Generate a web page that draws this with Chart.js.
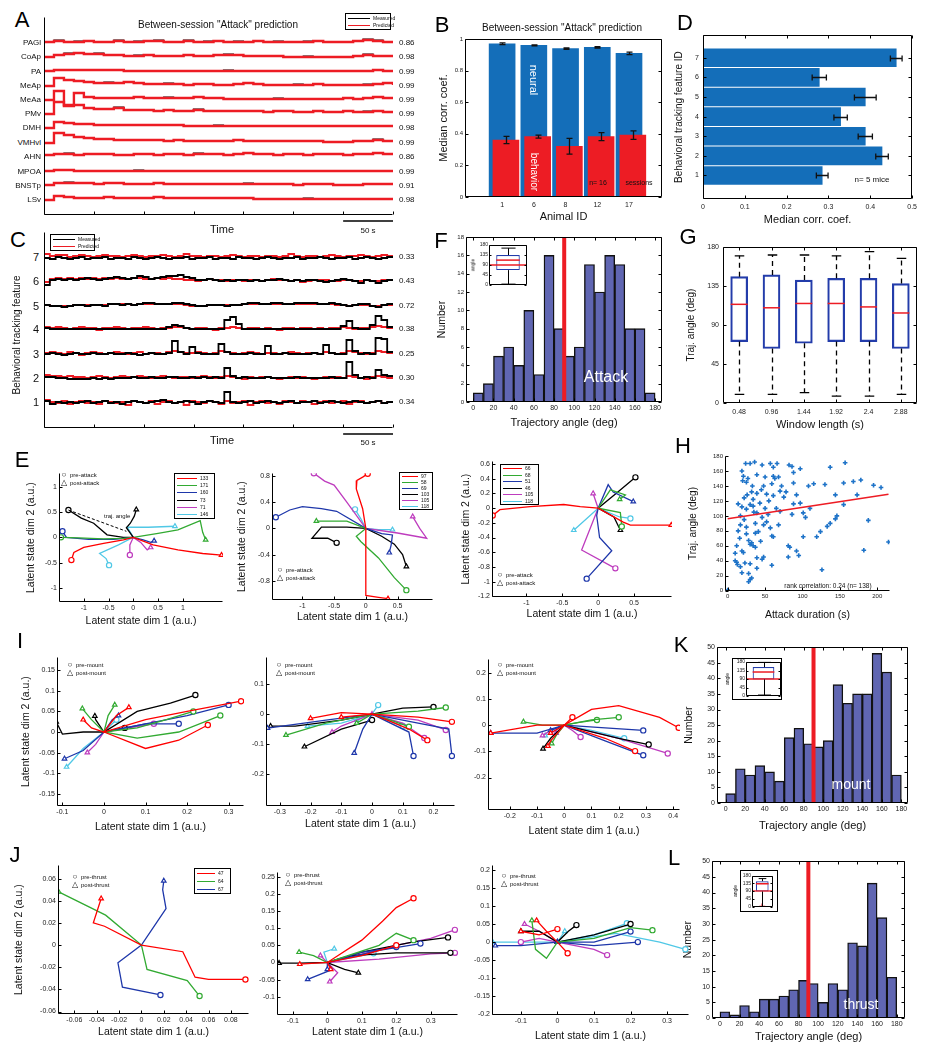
<!DOCTYPE html>
<html>
<head>
<meta charset="utf-8">
<title>Attack / mount / thrust prediction figure</title>
<script src="https://cdn.jsdelivr.net/npm/chart.js@4.4.1/dist/chart.umd.min.js"></script>
<style>
body { margin: 0; background: #fff; }
#fig { position: relative; width: 926px; height: 1050px; overflow: hidden; font-family: 'Liberation Sans', Arial, sans-serif; }
#fig canvas { position: absolute; }
.t { position: absolute; white-space: nowrap; line-height: 1; color: #111; }
.lg { position: absolute; border: 1px solid #000; background: #fff; }
</style>
</head>
<body>
<div id="fig"></div>
<script>
// ---------- data ----------

// A: neural traces, measured vs predicted (px of deflection, 10 s per sample)
const aRegions = ['PAGl', 'CoAp', 'PA', 'MeAp', 'MeAa', 'PMv', 'DMH', 'VMHvl', 'AHN', 'MPOA', 'BNSTp', 'LSv'];
const aCorr = ['0.86', '0.98', '0.99', '0.99', '0.99', '0.99', '0.98', '0.99', '0.86', '0.99', '0.91', '0.98'];
const aPred = [
  [1,2,1,1,2,1,1,2,1,1, 2,2,1,1,2,1,1,2,1,1, 1,2,1,1,1,1,1,2,1,1, 1,2,3,2,1,1],
  [0,2,3,4,3,3,2,2,1,1, 2,1,1,1,2,1,1,2,2,2, 1,1,1,1,0,0,0,0,0,0, 0,1,2,1,1,1],
  [1,2,2,2,2,2,2,2,1,1, 1,1,1,1,1,1,1,1,1,1, 1,1,1,1,1,1,1,1,1,1, 1,1,1,2,1,1],
  [0,8,6,5,4,3,3,3,4,3, 2,2,2,2,1,2,2,1,1,2, 3,2,1,1,1,1,1,2,1,1, 1,1,1,2,3,1],
  [0,9,-5,7,3,2,2,2,2,3, 2,2,2,2,2,3,2,2,1,1, 1,1,1,1,1,1,1,1,1,1, 2,1,2,3,2,1],
  [0,12,8,9,6,5,5,6,4,4, 4,3,4,3,3,4,3,3,3,3, 3,3,2,3,3,2,2,3,2,2, 3,2,2,3,2,2],
  [0,6,5,4,4,3,3,3,3,3, 3,3,3,3,2,2,2,2,2,2, 2,2,2,2,2,2,2,2,2,2, 2,2,2,2,2,1],
  [0,10,8,6,5,4,4,3,3,3, 3,3,2,3,2,2,2,2,2,3, 2,2,2,2,2,2,2,2,1,1, 1,2,2,3,2,1],
  [2,3,3,2,3,3,3,2,2,3, 3,2,3,3,2,3,3,3,2,3, 4,3,3,2,3,3,2,3,3,3, 2,3,3,4,3,2],
  [1,2,2,1,1,1,1,1,1,1, 1,1,1,1,1,1,1,1,1,1, 1,1,1,1,1,1,1,1,1,1, 1,1,1,1,1,1],
  [1,3,3,3,3,2,3,3,2,2, 2,3,2,2,2,2,2,2,2,2, 2,2,2,2,2,1,2,2,2,1, 1,1,2,2,2,1],
  [0,4,3,2,2,2,3,2,2,2, 2,3,2,2,2,2,2,2,2,2, 2,1,1,1,1,1,1,1,1,1, 1,1,1,1,1,1],
];
const aMeas = [
  [1,3,1,2,2,1,1,3,1,2, 2,3,1,1,3,1,2,2,1,2, 1,2,1,2,1,1,2,2,1,1, 1,2,4,3,1,1],
  [0,2,4,4,3,4,2,2,1,2, 2,1,1,1,2,1,1,2,3,2, 1,1,1,1,0,0,1,0,0,0, 0,1,3,1,1,1],
  [1,2,2,2,2,2,2,2,1,1, 1,1,1,1,1,1,1,1,2,1, 1,1,1,1,1,1,1,1,1,1, 1,1,1,2,1,1],
  [0,8,6,5,4,3,4,3,4,3, 2,2,3,2,1,2,2,1,1,2, 3,2,1,1,1,2,1,2,1,1, 1,1,2,2,3,1],
  [0,9,-5,7,3,2,2,2,2,3, 2,2,3,2,2,3,2,2,1,1, 1,1,1,2,1,1,1,1,1,1, 2,1,2,3,2,1],
  [0,12,8,9,6,5,5,7,4,4, 4,3,4,3,3,5,3,3,3,3, 3,3,2,3,3,2,2,3,2,2, 3,2,3,3,2,2],
  [0,6,5,4,4,3,3,3,3,3, 3,3,3,3,2,2,2,3,2,2, 2,2,2,2,2,2,2,2,2,2, 2,2,2,2,2,1],
  [0,10,8,6,5,4,4,3,3,3, 3,3,2,3,2,2,2,2,2,3, 2,2,2,2,2,2,2,2,1,1, 1,2,2,4,2,1],
  [2,3,4,2,3,3,3,2,2,3, 3,2,3,3,2,4,3,3,2,3, 4,3,3,2,3,3,2,3,3,3, 2,3,3,4,3,2],
  [1,2,2,1,1,1,1,1,1,2, 1,1,1,1,1,1,1,1,1,1, 1,1,1,1,1,1,1,1,1,1, 1,1,1,1,1,1],
  [1,3,4,3,3,2,3,3,2,2, 2,3,2,2,2,2,2,2,2,2, 3,2,2,2,2,1,2,2,2,1, 1,1,2,2,2,1],
  [0,4,3,2,2,2,3,2,2,2, 2,3,2,2,2,2,2,2,2,2, 2,1,1,1,1,1,2,1,1,1, 1,1,1,1,1,1],
];

// C: behavioural tracking features 7..1, measured vs predicted (px, 60 intervals over 350 s)
const cFeatures = ['7', '6', '5', '4', '3', '2', '1'];
const cCorr = ['0.33', '0.43', '0.72', '0.38', '0.25', '0.30', '0.34'];
const cMeas = [
  [-1,-2,0,-1,-2,-1,0,-2,-1,-1, 0,-2,-1,-1,-2,0,-1,-2,-1,0, -1,-2,-1,-1,0,-2,-1,-1,0,-2, -1,-1,-2,0,-1,-1,-2,-1,0,-1, -2,-1,-1,0,-2,-1,-1,0,-1,-2, -1,-1,0,-2,-1,0,-1,-2,-1,0, -1],
  [-4,1,2,1,2,1,2,3,2,1, 2,3,4,3,2,3,5,4,2,3, 4,5,5,6,4,3,1,1,2,1, 0,1,0,1,1,0,1,0,1,1, 2,1,0,1,0,1,1,0,-1,0, 1,2,1,0,-2,1,0,-2,0,1, 0],
  [1,0,0,-1,0,1,1,0,1,1, 0,2,2,1,2,1,2,3,3,2, 2,2,3,3,2,1,0,0,1,1, 1,0,1,1,2,3,3,2,2,3, 3,2,2,3,3,3,3,2,2,3, 2,1,0,1,2,2,0,-1,1,2, 1],
  [1,0,0,0,0,0,0,0,0,0, 0,0,0,0,0,0,0,0,0,0, 0,2,4,3,1,0,0,0,0,0, 0,9,12,5,0,0,0,0,0,0, 0,0,0,0,0,0,0,0,0,0, 0,3,8,1,0,0,4,13,9,2, 1],
  [0,1,0,-1,0,1,0,0,1,0, 0,1,0,0,1,0,-1,0,1,0, 0,1,13,2,0,7,1,0,0,0, 10,2,0,0,0,1,0,0,8,0, 0,1,0,0,0,0,1,0,9,1, 0,0,14,3,0,1,0,16,15,2, 1],
  [1,1,0,0,-1,-1,-1,-1,0,-1, 0,-1,0,0,0,1,0,0,1,0, 0,1,1,0,0,1,0,1,0,1, 0,10,2,0,1,0,0,0,1,0, 0,0,0,1,0,0,0,0,0,1, 0,0,16,3,0,1,0,8,3,2, 1],
  [1,-2,0,-1,0,-1,0,1,-1,0, 1,-1,0,-2,0,1,0,-1,0,1, 2,0,-1,0,1,0,-2,0,1,0, -1,10,0,-1,0,1,-1,0,1,0, -1,0,1,-1,0,0,1,-1,0,1, 0,-1,0,1,0,-1,0,1,-1,0, 1],
];
const cPred = [
  [3,1,2,2,0,1,2,1,0,1, 2,1,1,0,1,2,1,0,1,1, 2,1,0,1,3,1,1,0,1,1, 0,1,2,1,0,1,1,0,1,1, 0,1,3,1,0,1,1,0,1,2, 1,0,1,1,2,1,0,1,2,1, 0],
  [-1,2,3,2,3,2,3,2,3,2, 3,2,3,2,2,3,3,2,2,3, 2,3,2,2,1,1,0,1,2,1, 1,0,1,1,0,1,1,0,1,2, 1,1,0,1,-1,0,1,1,1,0, 0,1,1,0,0,1,0,0,1,1, 0],
  [1,0,0,0,0,1,1,1,1,1, 1,2,2,2,2,1,2,2,2,2, 2,2,2,2,1,0,0,0,1,1, 1,1,1,1,2,2,2,2,2,2, 2,2,2,2,2,2,2,2,2,2, 1,1,0,1,1,1,0,0,1,1, 1],
  [2,1,2,1,0,1,2,1,1,-1, 1,1,2,1,0,1,1,2,1,0, 1,1,2,2,1,0,1,1,0,-1, 1,1,2,1,0,1,1,0,1,0, -1,1,1,0,1,1,0,1,0,1, 1,2,1,0,1,1,2,3,2,1, 1],
  [1,2,1,0,2,1,-1,1,2,1, 0,1,2,1,0,1,2,0,1,1, 0,2,3,2,1,1,2,1,0,1, 3,2,1,0,1,2,1,0,1,1, 0,1,2,1,0,1,1,0,2,1, 0,1,3,2,1,0,1,3,2,1, 0],
  [3,2,2,1,2,1,1,0,1,2, 1,0,1,2,1,1,2,1,0,1, 2,1,0,1,1,0,1,2,1,0, 1,2,1,0,-1,1,0,1,1,0, -1,0,1,0,1,0,-1,0,1,0, 1,0,2,1,0,-1,1,2,1,0, 0],
  [2,0,-1,1,-2,0,1,-1,0,-2, 1,0,-1,0,-3,1,0,-1,1,-2, 0,1,-1,0,-3,1,0,-1,1,0, -2,1,-1,0,1,-3,0,1,-1,0, -2,1,0,-1,1,0,-2,0,1,-1, 0,1,-2,0,1,-1,0,1,-1,0, 0],
];

// B: median corr. coef. per animal
const animalIds = ['1', '6', '8', '12', '17'];
const neuralCorr = [0.970, 0.960, 0.939, 0.947, 0.909];
const neuralErr = [0.005, 0.003, 0.004, 0.004, 0.008];
const behaviorCorr = [0.361, 0.382, 0.321, 0.382, 0.392];
const behaviorErr = [0.023, 0.010, 0.050, 0.025, 0.027];

// D: median corr. coef. per tracking feature
const featureIds = [1, 2, 3, 4, 5, 6, 7];
const featCorr = [0.285, 0.428, 0.388, 0.329, 0.388, 0.278, 0.462];
const featErr = [0.014, 0.015, 0.017, 0.016, 0.026, 0.017, 0.014];

// F, K, L: trajectory-angle histograms (10 deg bins)
const binCenters = [5, 15, 25, 35, 45, 55, 65, 75, 85, 95, 105, 115, 125, 135, 145, 155, 165, 175];
const fCounts = [1, 2, 5, 6, 4, 10, 3, 16, 8, 5, 6, 15, 12, 16, 15, 8, 8, 1];
const kCounts = [3, 11, 9, 12, 10, 7, 21, 24, 19, 18, 20, 38, 32, 35, 35, 48, 42, 9];
const lCounts = [2, 1, 4, 2, 6, 6, 7, 9, 12, 11, 5, 11, 9, 24, 23, 43, 32, 13];
// inset box plots: [min, q1, median, q3, max]
const fBox = [4, 67, 112, 135, 166];
const kBox = [5, 88, 127, 153, 178];
const lBox = [0, 87, 132, 147, 162];
const lOutliers = [0];

// G: trajectory angle vs window length
const windowLabels = ['0.48', '0.96', '1.44', '1.92', '2.4', '2.88'];
const gMin = [10, 10, 12, 8, 8, 10];
const gQ1 = [71, 63, 69, 71, 71, 63];
const gMed = [114, 110, 115, 115, 111, 104];
const gQ3 = [146, 148, 142, 144, 144, 138];
const gMax = [170, 171, 171, 170, 175, 167];

// H: trajectory angle vs attack duration
const hDur = [24,36,46,57,61,66,82,86,97,137,157, 19,21,39,50,61,68,88, 20,25,48,59,72,88,108,115,130,155,168,178,195,205,
  32,39,52,61,70,144,173,34,22, 14,19,30,34,43,88,97,155,25, 17,39,54,70,86,101,104,146,144,46, 17,25,37,48,57,137,133,188,
  37,41,59,61,101,119,124,25, 12,28,30,32,34,37,81,83,92,182,215, 10,19,21,39,46,48,81,95, 10,12,13,17,23,30,39,59,126,
  19,28,32,28,30, 0, 27,33,45,55,65,75,16,22,44,52,63,78,92,110,35,26,14,50,68,30];
const hAng = [170,172,168,170,165,170,168,166,163,165,171, 160,153,155,152,153,152,158, 147,145,140,143,140,144,140,143,142,144,146,148,141,138,
  132,130,129,127,133,128,128,122,124, 116,112,115,113,117,116,117,115,109, 100,104,102,106,102,104,98,100,96,98, 88,85,90,88,84,90,86,94,
  77,79,73,72,72,72,79,76, 60,67,62,64,60,58,60,58,53,54,65, 50,53,51,44,42,45,45,47, 40,38,35,32,37,36,30,34,28,
  24,23,17,12,15, 1, 150,140,135,120,110,125,70,95,66,92,150,132,128,110,105,128,80,110,88,170];
const hFitX = [0, 215];
const hFitY = [96, 129];

// E: attack trajectories in latent space (pre point first, post point last)
const e1Ids = ['133', '171', '160', '73', '71', '146'];
const e1Red = [[-1.25,-0.45],[-1.2,-0.3],[-1.0,-0.2],[-0.6,-0.12],[-0.2,-0.05],[0,0],[0.4,-0.15],[0.9,-0.25],[1.4,-0.32],[1.78,-0.35]];
const e1Green = [[-1.46,0],[-1.1,-0.01],[-0.6,-0.03],[-0.2,-0.02],[0,0],[0.5,0.08],[0.9,0.15],[1.35,0.33],[1.4,0.1],[1.46,-0.05]];
const e1Blue = [[-1.43,0.12],[-1.35,0],[-0.9,-0.04],[-0.4,-0.04],[0,0],[0.2,-0.05],[0.35,-0.1],[0.42,-0.07]];
const e1Black = [[-1.31,0.54],[-1.05,0.38],[-0.8,0.28],[-0.53,0.05],[-0.2,0],[0,0],[-0.14,0.19],[-0.06,0.28],[0.02,0.42],[0.06,0.55]];
const e1Mag = [[-0.07,-0.35],[-0.07,-0.15],[0,0],[0.15,-0.1],[0.28,-0.25],[0.35,-0.2]];
const e1Cyan = [[-0.49,-0.55],[-0.55,-0.42],[-0.68,-0.32],[-0.3,-0.15],[0,0],[-0.12,0.2],[0.3,0.2],[0.84,0.22]];
const e1Angle = [[-1.31,0.54],[-0.14,0.12]];
const e2Ids = ['97', '58', '69', '103', '105', '118'];
const e2Red = [[0.03,0.83],[-0.05,0.78],[-0.14,0.73],[-0.15,0.6],[-0.05,0.3],[0,0],[0,-0.5],[0,-1.02],[0.2,-1.05],[0.35,-1.07]];
const e2Green = [[0.64,-0.94],[0.45,-0.75],[0.2,-0.45],[-0.08,-0.2],[-0.15,-0.12],[0,0],[-0.3,0.11],[-0.78,0.11]];
const e2Blue = [[-1.42,0.17],[-1.2,0.28],[-1.0,0.33],[-0.7,0.3],[-0.46,0.26],[0,0],[0.25,-0.08],[0.42,-0.1],[0.4,-0.25],[0.37,-0.37]];
const e2Black = [[-0.46,-0.22],[-0.6,-0.15],[-0.85,-0.15],[-0.7,0.02],[-0.3,0.02],[0,0],[0.25,-0.12],[0.45,-0.24],[0.58,-0.4],[0.64,-0.58]];
const e2Mag = [[-0.82,0.84],[-0.65,0.72],[-0.5,0.66],[-0.3,0.4],[0,0],[0.5,-0.07],[0.96,-0.15],[0.85,0],[0.74,0.18]];
const e2Cyan = [[-0.17,0.29],[-0.08,0.15],[0,0],[0.2,-0.02],[0.42,-0.02]];
const e3Ids = ['66', '68', '51', '46', '105', '118'];
const e3Red = [[-1.47,-0.1],[-1.37,-0.02],[-0.95,0.02],[-0.48,0.05],[-0.25,0.02],[0,0],[0.35,-0.19],[0.45,-0.23],[0.75,-0.23],[1.02,-0.23]];
const e3Green = [[0.33,-0.25],[0.31,-0.06],[0,0],[0.17,0.25],[0.38,0.18],[0.3,0.12]];
const e3Blue = [[-0.16,-0.96],[0.19,-0.58],[0.02,-0.4],[-0.02,-0.1],[0,0],[0.14,0.32],[0.21,0.22],[0.49,0.09]];
const e3Black = [[0.52,0.42],[0.25,0.2],[0,0],[0.22,-0.12],[0.31,-0.3]];
const e3Mag = [[0.24,-0.82],[-0.23,-0.57],[0,0],[-0.07,0.2]];
const e3Cyan = [[0.45,-0.14],[0.3,-0.12],[0,0],[-0.34,-0.3]];

// I: mount trajectories
const i1Red = [[[0.33,0.075],[0.2,0.05],[0.1,0.03],[0,0],[0.03,0.04],[0.06,0.06]], [[0.25,0.017],[0.18,-0.02],[0.1,-0.04],[0,0],[-0.03,0.01],[-0.05,0.03]]];
const i1Green = [[[0.215,0.05],[0.15,0.03],[0.08,0.01],[0,0],[-0.03,0.03],[-0.052,0.057]], [[0.28,0.04],[0.18,0],[0.08,-0.015],[0,0],[0.01,0.04],[0.026,0.066]]];
const i1Blue = [[[0.3,0.066],[0.2,0.04],[0.1,0.02],[0,0],[-0.05,-0.045],[-0.095,-0.065]], [[0.18,0.02],[0.1,0.02],[0,0],[0.02,0.03],[0.035,0.04]]];
const i1Black = [[[0.22,0.09],[0.16,0.07],[0.08,0.05],[0,0],[-0.05,0],[-0.1,-0.005],[-0.115,0.025]], [[0.05,0.01],[0,0],[-0.02,0.03],[-0.022,0.039]]];
const i1Mag = [[[0.12,0.02],[0.06,0.01],[0,0],[-0.02,-0.03],[-0.04,-0.05]]];
const i1Cyan = [[[0.03,0.03],[0.02,0.02],[0,0],[-0.05,-0.04],[-0.09,-0.085]]];
const i2Red = [[[0.18,-0.087],[0.12,-0.05],[0.05,-0.02],[0,0],[-0.1,0.005],[-0.2,-0.014]], [[0.26,-0.026],[0.15,-0.01],[0,0],[-0.1,-0.01]]];
const i2Green = [[[0.12,-0.042],[0.06,-0.02],[0,0],[-0.15,-0.03],[-0.28,-0.07]], [[0.24,0.022],[0.15,0.01],[0,0],[-0.05,-0.03]]];
const i2Blue = [[[0.26,-0.14],[0.25,-0.05],[0.15,-0.03],[0,0],[-0.15,-0.02],[-0.34,-0.047]], [[0.135,-0.14],[0.12,-0.06],[0,0],[-0.03,-0.05],[-0.058,-0.13]]];
const i2Black = [[[0.2,0.024],[0.1,0.02],[0,0],[-0.1,-0.02],[-0.25,-0.04],[-0.33,-0.04]], [[0,-0.02],[-0.1,-0.05],[-0.22,-0.109]]];
const i2Mag = [[[0.24,-0.053],[0.15,-0.02],[0,0],[-0.1,-0.04],[-0.13,-0.06]], [[0.17,-0.08],[0.1,-0.03],[0,0]]];
const i2Cyan = [[[0.1,-0.04],[0.05,-0.02],[0,0],[-0.1,-0.03],[-0.21,-0.04]], [[0.02,0.03],[0,0],[-0.05,-0.02]]];
const i3Red = [[[0.42,-0.01],[0.35,0.03],[0.2,0.075],[0.1,0.06],[0,0],[-0.1,0],[-0.27,-0.03]], [[0.26,-0.099],[0.15,-0.05],[0,0],[-0.05,-0.06],[-0.06,-0.08]], [[0.03,0.03],[0,0],[-0.05,-0.03]]];
const i3Green = [[[0.2,0.03],[0.1,0.02],[0,0],[-0.08,0],[-0.15,0.013]], [[0.12,0.02],[0.05,0.01],[0,0],[-0.03,-0.04],[-0.046,-0.07]]];
const i3Blue = [[[0.29,-0.115],[0.15,-0.06],[0,0],[-0.1,-0.03],[-0.27,-0.03]], [[0.29,-0.02],[0.15,-0.01],[0,0],[-0.05,-0.02]]];
const i3Black = [[[0.31,-0.074],[0.2,-0.05],[0,0],[-0.05,-0.05],[-0.078,-0.09]]];
const i3Mag = [[[0.38,-0.108],[0.2,-0.05],[0,0],[-0.03,-0.03]], [[0.06,-0.045],[0.03,-0.02],[0,0],[-0.05,-0.02],[-0.08,-0.04]]];
const i3Cyan = [[[0.22,-0.05],[0.1,-0.02],[0,0],[-0.05,-0.03],[-0.07,-0.04]]];

// J: thrust trajectories
const j1Ids = ['47', '64', '67'];
const j1Red = [[0.093,-0.031],[0.06,-0.031],[0.048,-0.029],[0.037,-0.006],[0,0],[-0.033,0.017],[-0.043,0.02],[-0.036,0.042]];
const j1Green = [[0.052,-0.046],[0.041,-0.032],[0.005,-0.022],[0,0],[-0.032,0.027],[-0.074,0.048]];
const j1Blue = [[0.017,-0.045],[-0.017,-0.038],[-0.021,-0.016],[0,0],[0.022,0.033],[0.019,0.05],[0.02,0.058]];
const j2Red = [[[0.25,0.187],[0.2,0.16],[0.16,0.12],[0.1,0.065],[0,0],[-0.08,-0.005]], [[0.2,0.05],[0.1,0.02],[0,0],[0.01,-0.02]]];
const j2Green = [[[0.25,0.065],[0.2,0.085],[0.15,0.05],[0,0],[-0.04,0.02],[-0.082,0.03]]];
const j2Blue = [[[0.27,0.055],[0.15,0.035],[0,0],[0.015,-0.02],[-0.057,-0.049]], [[0.2,0.045],[0.1,0.03],[0,0],[0,-0.02]]];
const j2Black = [[[0.35,0.073],[0.25,0.06],[0.1,0.03],[0,0],[-0.08,-0.002],[-0.14,-0.002]], [[0.357,0.028],[0.2,0.028],[0.07,0.02],[0,0],[0.05,-0.02],[0.09,-0.03]]];
const j2Mag = [[[0.37,0.095],[0.3,0.07],[0.2,0.05],[0,0],[0.03,-0.03],[0.007,-0.056]], [[0.37,0.028],[0.3,0.025],[0.15,0.01],[0,0],[-0.02,0.02]]];
const j2Cyan = [[[0.134,0.027],[0.1,0.02],[0,0],[-0.01,0.03],[0.02,0.04]]];
const j3Red = [[[0.028,-0.031],[0,0],[-0.03,0.03],[-0.057,0.06]], [[0,0.036],[-0.05,0.02],[-0.1,0.03]]];
const j3Green = [[[0.26,0.033],[0.2,0.04],[0.1,0.01],[0,0],[-0.03,-0.045],[-0.06,-0.02],[-0.07,0.06]]];
const j3Blue = [[[0.2,0.029],[0.1,0],[0,0],[-0.1,-0.01],[-0.17,-0.01]], [[0.22,0],[0.1,-0.01],[0,0]]];
const j3Black = [[[0.052,0.047],[0.03,0.03],[0,0],[-0.05,0.03],[-0.1,0.03]], [[0.2,0.05],[0.1,0.02],[0,0]]];
const j3Mag = [[[0.136,-0.036],[0.1,-0.02],[0,0],[-0.05,0.03],[-0.09,0.05]], [[-0.1,0],[-0.05,0.01],[0,0]]];
const j3Cyan = [[[0.35,-0.02],[0.28,0],[0.16,0.024],[0,0],[-0.1,0],[-0.177,0]], [[0.19,0.052],[0.1,0.02],[0,0],[0.02,0.03]]];

// tick positions
const angTicks = [0, 20, 40, 60, 80, 100, 120, 140, 160, 180];
const fYTicks = [0, 2, 4, 6, 8, 10, 12, 14, 16, 18];
const klYTicks = [0, 5, 10, 15, 20, 25, 30, 35, 40, 45, 50];
const quarterTicks = [0, 45, 90, 135, 180];

// ---------- drawing ----------
const fig = document.getElementById('fig');
const RED = 'rgb(237,28,36)';
const BAR_BLUE = 'rgb(20,110,185)';
const HIST = 'rgb(96,102,178)';
const BOX_BLUE = 'rgb(35,60,170)';
const DOT_BLUE = 'rgb(30,115,200)';
const TR = { r: 'rgb(255,0,0)', g: 'rgb(50,170,50)', b: 'rgb(30,55,170)', k: '#000', m: 'rgb(190,60,190)', c: 'rgb(80,200,230)' };

Chart.defaults.font.family = "'Liberation Sans', Arial, sans-serif";
Chart.defaults.color = '#222';
Chart.defaults.animation = false;
Chart.defaults.responsive = false;
Chart.defaults.plugins.legend.display = false;
Chart.defaults.plugins.tooltip.enabled = false;

const fmt = v => { const n = +(+v).toFixed(4); return String(Object.is(n, -0) ? 0 : n); };

function lin(min, max, ticks, o = {}) {
  return {
    type: 'linear', min, max, offset: false,
    afterBuildTicks: s => { s.ticks = ticks.map(v => ({ value: v })); },
    grid: { display: false, drawTicks: false }, border: { display: false },
    ticks: { display: !o.hide, font: { size: o.fs || 7 }, color: '#222', padding: o.pad ?? 2, autoSkip: false, maxRotation: 0, callback: o.cb || fmt },
    title: { display: !!o.title, text: o.title || '', font: { size: o.tfs || 11 }, padding: 0, color: '#111' },
  };
}

// place a chart so that its plot area is exactly box = [left, top, width, height]
function chartAt(box, pad, cfg) {
  const [x, y, w, h] = box;
  const cv = document.createElement('canvas');
  cv.width = w + pad.l + pad.r;
  cv.height = h + pad.t + pad.b;
  cv.style.left = (x - pad.l) + 'px';
  cv.style.top = (y - pad.t) + 'px';
  fig.appendChild(cv);
  const o = cfg.options;
  o.layout = { padding: { left: 0, top: pad.t, right: pad.r, bottom: 0 } };
  o.scales.x.afterFit = s => { s.height = pad.b; };
  o.scales.y.afterFit = s => { s.width = pad.l; };
  return new Chart(cv, cfg);
}

// axes lines, inward ticks, reference lines, scale bar
Chart.register({
  id: 'axes',
  beforeDraw(chart, args, o) {
    const { ctx, chartArea: c } = chart;
    if (o.cbg) { ctx.save(); ctx.fillStyle = o.cbg; ctx.fillRect(0, 0, chart.width, chart.height); ctx.restore(); }
    if (o.bg) { ctx.save(); ctx.fillStyle = o.bg; ctx.fillRect(c.left, c.top, c.right - c.left, c.bottom - c.top); ctx.restore(); }
  },
  afterDatasetsDraw(chart, args, o) {
    if (!o.on) return;
    const { ctx, chartArea: c, scales } = chart;
    const L = Math.round(c.left) + 0.5, R = Math.round(c.right) - 0.5, T = Math.round(c.top) + 0.5, B = Math.round(c.bottom) - 0.5;
    ctx.save();
    if (o.vline !== undefined) {
      const px = scales.x.getPixelForValue(o.vline);
      ctx.fillStyle = RED; ctx.fillRect(px - 2, c.top, 4, c.bottom - c.top);
    }
    if (o.hline !== undefined) {
      const py = scales.y.getPixelForValue(o.hline);
      ctx.strokeStyle = RED; ctx.lineWidth = 1.3;
      ctx.beginPath(); ctx.moveTo(c.left, py); ctx.lineTo(c.right, py); ctx.stroke();
    }
    ctx.strokeStyle = '#000'; ctx.lineWidth = 1;
    ctx.beginPath();
    if (o.box) ctx.rect(L, T, R - L, B - T);
    else { ctx.moveTo(L, T); ctx.lineTo(L, B); ctx.lineTo(R, B); }
    const len = o.len ?? 3;
    if (o.xt !== false) scales.x.ticks.forEach((t, i) => {
      const p = Math.round(scales.x.getPixelForTick(i)) + 0.5;
      ctx.moveTo(p, B); ctx.lineTo(p, B - len);
      if (o.box) { ctx.moveTo(p, T); ctx.lineTo(p, T + len); }
    });
    if (o.yt !== false) scales.y.ticks.forEach((t, i) => {
      const p = Math.round(scales.y.getPixelForTick(i)) + 0.5;
      ctx.moveTo(L, p); ctx.lineTo(L + len, p);
      if (o.box) { ctx.moveTo(R, p); ctx.lineTo(R - len, p); }
    });
    ctx.stroke();
    if (o.frame) { ctx.strokeRect(0.5, 0.5, chart.width - 1, chart.height - 1); }
    if (o.bar) {
      const a = scales.x.getPixelForValue(o.bar[0]), b = scales.x.getPixelForValue(o.bar[1]);
      ctx.lineWidth = 1.5;
      ctx.beginPath(); ctx.moveTo(a, c.bottom + 6); ctx.lineTo(b, c.bottom + 6); ctx.stroke();
    }
    ctx.restore();
  }
});

// whiskers + medians on floating-bar box plots
Chart.register({
  id: 'boxw',
  afterDatasetsDraw(chart, args, o) {
    if (!o.min) return;
    const { ctx } = chart, y = chart.scales.y, meta = chart.getDatasetMeta(0);
    const py = v => y.getPixelForValue(v);
    ctx.save();
    meta.data.forEach((el, i) => {
      const [q1, q3] = chart.data.datasets[0].data[i];
      const x = Math.round(el.x) + 0.5, w = el.width, cw = w * (o.cap || 0.25);
      ctx.strokeStyle = '#000'; ctx.lineWidth = o.lw || 1.3;
      ctx.setLineDash(o.dash ? [5, 4] : []);
      ctx.beginPath();
      ctx.moveTo(x, py(q3)); ctx.lineTo(x, py(o.max[i]));
      ctx.moveTo(x, py(q1)); ctx.lineTo(x, py(o.min[i]));
      ctx.stroke();
      ctx.setLineDash([]);
      ctx.beginPath();
      ctx.moveTo(x - cw, py(o.max[i])); ctx.lineTo(x + cw, py(o.max[i]));
      ctx.moveTo(x - cw, py(o.min[i])); ctx.lineTo(x + cw, py(o.min[i]));
      ctx.stroke();
      ctx.strokeStyle = RED; ctx.lineWidth = 1.5;
      ctx.beginPath(); ctx.moveTo(el.x - w / 2, py(o.med[i])); ctx.lineTo(el.x + w / 2, py(o.med[i])); ctx.stroke();
    });
    ctx.restore();
  }
});

// error bars for datasets carrying an err array
Chart.register({
  id: 'errbars',
  afterDatasetsDraw(chart) {
    const ctx = chart.ctx, horiz = chart.options.indexAxis === 'y';
    chart.data.datasets.forEach((ds, di) => {
      if (!ds.err) return;
      const meta = chart.getDatasetMeta(di);
      const vs = horiz ? chart.scales[meta.xAxisID] : chart.scales[meta.yAxisID];
      ctx.save(); ctx.strokeStyle = '#111'; ctx.lineWidth = 1.3;
      meta.data.forEach((el, i) => {
        const v = horiz ? ds.data[i].x : ds.data[i].y;
        const lo = vs.getPixelForValue(v - ds.err[i]), hi = vs.getPixelForValue(v + ds.err[i]);
        ctx.beginPath();
        if (horiz) {
          const yy = Math.round(el.y) + 0.5;
          ctx.moveTo(lo, yy); ctx.lineTo(hi, yy);
          ctx.moveTo(lo, yy - 3); ctx.lineTo(lo, yy + 3); ctx.moveTo(hi, yy - 3); ctx.lineTo(hi, yy + 3);
        } else {
          const xx = Math.round(el.x) + 0.5;
          ctx.moveTo(xx, lo); ctx.lineTo(xx, hi);
          ctx.moveTo(xx - 3, lo); ctx.lineTo(xx + 3, lo); ctx.moveTo(xx - 3, hi); ctx.lineTo(xx + 3, hi);
        }
        ctx.stroke();
      });
      ctx.restore();
    });
  }
});

function txt(s, x, y, o = {}) {
  const d = document.createElement('div');
  d.className = 't';
  d.textContent = s;
  d.style.left = x + 'px';
  d.style.top = y + 'px';
  d.style.fontSize = (o.fs || 8) + 'px';
  if (o.color) d.style.color = o.color;
  if (o.bold) d.style.fontWeight = 'bold';
  const ax = o.a === 'r' ? '-100%' : o.a === 'c' ? '-50%' : '0';
  d.style.transform = `translate(${o.rot ? '-50%' : ax}, -50%)` + (o.rot ? ` rotate(${o.rot}deg)` : '');
  fig.appendChild(d);
}

function lineLegend(x, y, w, h, items, fs) {
  const d = document.createElement('div');
  d.className = 'lg';
  Object.assign(d.style, { left: x + 'px', top: y + 'px', width: w + 'px', height: h + 'px' });
  const rh = h / items.length;
  items.forEach(([col, lab], i) => {
    const ln = document.createElement('div');
    Object.assign(ln.style, { position: 'absolute', left: '2px', width: Math.round(w * 0.5) + 'px', top: (rh * (i + 0.5)) + 'px', borderTop: '1.5px solid ' + col });
    d.appendChild(ln);
    const t = document.createElement('div');
    t.className = 't';
    t.textContent = lab;
    Object.assign(t.style, { left: Math.round(w * 0.5 + 5) + 'px', top: (rh * (i + 0.5)) + 'px', fontSize: fs + 'px', transform: 'translateY(-50%)' });
    d.appendChild(t);
  });
  fig.appendChild(d);
}

function markLegend(x, y, pre, post) {
  txt('\u25CB', x, y, { fs: 8, a: 'c' });
  txt(pre, x + 6, y, { fs: 6 });
  txt('\u25B3', x, y + 8, { fs: 8, a: 'c' });
  txt(post, x + 6, y + 8, { fs: 6 });
}

function trajSets(groups) {
  const out = [];
  for (const [col, trs] of groups) for (const tr of trs) out.push({
    data: tr.map(p => ({ x: p[0], y: p[1] })),
    showLine: true, borderColor: col, borderWidth: 1.3,
    pointBorderColor: col, pointBackgroundColor: '#fff', pointBorderWidth: 1.2,
    pointRadius: c => (c.dataIndex === 0 || c.dataIndex === c.dataset.data.length - 1) ? 2.6 : 0,
    pointStyle: c => c.dataIndex === 0 ? 'circle' : 'triangle',
  });
  return out;
}

function trajChart(box, pad, xr, yr, xt, yt, sets, yTitle) {
  return chartAt(box, pad, {
    type: 'scatter',
    data: { datasets: sets },
    options: {
      plugins: { axes: { on: true } },
      scales: {
        x: lin(xr[0], xr[1], xt, { title: 'Latent state dim 1 (a.u.)', fs: 7, tfs: 10.5 }),
        y: lin(yr[0], yr[1], yt, { title: yTitle, fs: 7, tfs: 10.5 }),
      }
    }
  });
}

function hist(box, pad, counts, xr, ymax, yTicks, yfs) {
  return chartAt(box, pad, {
    type: 'bar',
    data: { datasets: [{ data: counts.map((c, i) => ({ x: binCenters[i], y: c })), backgroundColor: HIST, borderColor: '#111', borderWidth: 1.4, barPercentage: 1, categoryPercentage: 1 }] },
    options: {
      plugins: { axes: { on: true, box: true, vline: 90 } },
      scales: {
        x: lin(xr[0], xr[1], angTicks, { title: 'Trajectory angle (deg)', fs: 7 }),
        y: lin(0, ymax, yTicks, { title: 'Number', fs: yfs || 7, tfs: 10.5 }),
      }
    }
  });
}

function inset(box, pad, st, frame, extra) {
  const sets = [{ data: [[st[1], st[3]]], backgroundColor: '#fff', borderColor: BOX_BLUE, borderWidth: 1.2, borderSkipped: false, barPercentage: 0.62, categoryPercentage: 1 }];
  if (extra) sets.push(extra);
  return chartAt(box, pad, {
    type: 'bar',
    data: { labels: [''], datasets: sets },
    options: {
      plugins: {
        axes: { on: true, box: true, xt: false, len: 2, bg: '#fff', cbg: frame ? '#fff' : undefined, frame, hline: 90 },
        boxw: { min: [st[0]], med: [st[2]], max: [st[4]], cap: 0.3, lw: 1 },
      },
      scales: {
        x: { type: 'category', offset: true, grid: { display: false, drawTicks: false }, border: { display: false }, ticks: { display: false } },
        y: lin(0, 180, quarterTicks, { fs: 5, pad: 1 }),
      }
    }
  });
}

// ---- A
const aTime = aPred[0].map((_, i) => i * 10);
const aRowY = [43, 57, 72, 86, 100, 114, 128, 143, 157, 172, 186, 200];
const aSets = [];
aPred.forEach((row, r) => {
  const base = 215 - aRowY[r];
  aSets.push({ data: row.map((v, i) => ({ x: aTime[i], y: base + v })), borderColor: RED, borderWidth: 2.4, stepped: true, pointRadius: 0, order: 0 });
  aSets.push({ data: aMeas[r].map((v, i) => ({ x: aTime[i], y: base + v })), borderColor: '#000', borderWidth: 1.2, stepped: true, pointRadius: 0, order: 1 });
});
chartAt([44, 17, 349, 198], { l: 2, t: 4, b: 12, r: 4 }, {
  type: 'line',
  data: { datasets: aSets },
  options: {
    plugins: { axes: { on: true, yt: false, bar: [300, 350] } },
    scales: { x: lin(0, 350, [0, 50, 100, 150, 200, 250, 300, 350], { hide: true }), y: lin(0, 198, [0], { hide: true }) }
  }
});

// ---- C
const cTime = cPred[0].map((_, i) => i * 350 / 60);
const cRowY = [257, 281, 306, 329, 354, 378, 402];
const cSets = [];
cPred.forEach((row, r) => {
  const base = 428 - cRowY[r];
  cSets.push({ data: cMeas[r].map((v, i) => ({ x: cTime[i], y: base + v })), borderColor: '#000', borderWidth: 1.8, stepped: true, pointRadius: 0, order: 0 });
  cSets.push({ data: row.map((v, i) => ({ x: cTime[i], y: base + v })), borderColor: RED, borderWidth: 1.8, stepped: true, pointRadius: 0, order: 1 });
});
chartAt([44, 232, 349, 196], { l: 2, t: 4, b: 12, r: 4 }, {
  type: 'line',
  data: { datasets: cSets },
  options: {
    plugins: { axes: { on: true, yt: false, bar: [300, 350] } },
    scales: { x: lin(0, 350, [0, 50, 100, 150, 200, 250, 300, 350], { hide: true }), y: lin(0, 196, [0], { hide: true }) }
  }
});

// ---- B
chartAt([465, 39, 197, 158], { l: 28, t: 6, b: 27, r: 8 }, {
  type: 'bar',
  data: { datasets: [
    { data: neuralCorr.map((v, i) => ({ x: i, y: v })), err: neuralErr, backgroundColor: BAR_BLUE, barThickness: 26, grouped: false, order: 2, xAxisID: 'x' },
    { data: behaviorCorr.map((v, i) => ({ x: i, y: v })), err: behaviorErr, backgroundColor: RED, barThickness: 26, grouped: false, order: 1, xAxisID: 'x2' },
  ] },
  options: {
    plugins: { axes: { on: true, box: true, xt: false } },
    scales: {
      x: lin(-1.17, 5.04, [0, 1, 2, 3, 4], { cb: v => animalIds[v], title: 'Animal ID', fs: 7, pad: 4 }),
      x2: { type: 'linear', display: false, min: -1.29, max: 4.92, offset: false },
      y: lin(0, 1, [0, 0.2, 0.4, 0.6, 0.8, 1], { title: 'Median corr. coef.', fs: 6 }),
    }
  }
});

// ---- D
chartAt([703, 33, 210, 166], { l: 30, t: 6, b: 28, r: 8 }, {
  type: 'bar',
  data: { datasets: [{ data: featCorr.map((v, i) => ({ x: v, y: featureIds[i] })), err: featErr, backgroundColor: BAR_BLUE, barThickness: 18 }] },
  options: {
    indexAxis: 'y',
    plugins: { axes: { on: true, box: true } },
    scales: {
      x: lin(0, 0.5, [0, 0.1, 0.2, 0.3, 0.4, 0.5], { title: 'Median corr. coef.', fs: 7, pad: 4 }),
      y: lin(-0.2, 8.15, featureIds, { title: 'Behavioral tracking feature ID', fs: 7, tfs: 10, pad: 4 }),
    }
  }
});

// ---- F, K, L histograms and insets
hist([466, 237, 196, 165], { l: 30, t: 6, b: 28, r: 8 }, fCounts, [-7.2, 186.8], 18, fYTicks, 6);
inset([489, 245, 38, 41], { l: 20, t: 4, b: 3, r: 1 }, fBox, false);
hist([717, 647, 191, 156], { l: 34, t: 6, b: 30, r: 8 }, kCounts, [-8.9, 186.8], 50, klYTicks);
inset([746, 661, 35, 36], { l: 14, t: 3, b: 3, r: 1 }, kBox, true);
hist([712, 861, 193, 157], { l: 30, t: 6, b: 26, r: 8 }, lCounts, [-8.1, 188.4], 50, klYTicks);
inset([752, 873, 25, 36], { l: 12, t: 3, b: 3, r: 1 }, lBox, true,
  { type: 'line', data: lOutliers, showLine: false, pointStyle: 'cross', pointRadius: 3, borderColor: RED, pointBorderWidth: 1.5 });

// ---- G
chartAt([723, 247, 194, 156], { l: 38, t: 8, b: 29, r: 6 }, {
  type: 'bar',
  data: { labels: windowLabels, datasets: [{ data: gQ1.map((q, i) => [q, gQ3[i]]), backgroundColor: 'rgba(0,0,0,0)', borderColor: BOX_BLUE, borderWidth: 1.5, borderSkipped: false, barThickness: 17 }] },
  options: {
    plugins: { axes: { on: true, box: true }, boxw: { min: gMin, med: gMed, max: gMax, dash: true, cap: 0.28 } },
    scales: {
      x: { type: 'category', offset: true, grid: { display: false, drawTicks: false }, border: { display: false },
        ticks: { font: { size: 7 }, color: '#222', padding: 5 },
        title: { display: true, text: 'Window length (s)', font: { size: 11 }, padding: 0, color: '#111' } },
      y: lin(0, 180, quarterTicks, { title: 'Traj. angle (deg)', fs: 7, tfs: 10, pad: 4 }),
    }
  }
});

// ---- H
chartAt([725, 456, 165, 135], { l: 38, t: 6, b: 30, r: 6 }, {
  type: 'scatter',
  data: { datasets: [
    { data: hFitX.map((x, i) => ({ x, y: hFitY[i] })), showLine: true, borderColor: RED, borderWidth: 1.5, pointRadius: 0 },
    { data: hDur.map((x, i) => ({ x, y: hAng[i] })), pointStyle: 'cross', pointRadius: 2.3, borderColor: DOT_BLUE, pointBorderWidth: 1.6 },
  ] },
  options: {
    plugins: { axes: { on: true } },
    scales: {
      x: lin(-3.6, 217, [0, 50, 100, 150, 200], { title: 'Attack duration (s)', fs: 6, tfs: 10.5 }),
      y: lin(-0.4, 180, [0, 20, 40, 60, 80, 100, 120, 140, 160, 180], { title: 'Traj. angle (deg)', fs: 6, tfs: 10 }),
    }
  }
});

// ---- E, I, J trajectories
const dim2 = 'Latent state dim 2 (a.u.)';
trajChart([59, 473, 164, 129], { l: 34, t: 6, b: 25, r: 6 }, [-1.5, 1.81], [-1.28, 1.27], [-1, -0.5, 0, 0.5, 1], [-1, -0.5, 0, 0.5, 1],
  [{ data: e1Angle.map(p => ({ x: p[0], y: p[1] })), showLine: true, borderColor: '#000', borderWidth: 1, borderDash: [3, 2], pointRadius: 0 }]
    .concat(trajSets([[TR.r, [e1Red]], [TR.g, [e1Green]], [TR.b, [e1Blue]], [TR.k, [e1Black]], [TR.m, [e1Mag]], [TR.c, [e1Cyan]]])), dim2);
trajChart([272, 473, 161, 127], { l: 36, t: 6, b: 23, r: 6 }, [-1.48, 1.06], [-1.09, 0.84], [-1, -0.5, 0, 0.5], [-0.8, -0.4, 0, 0.4, 0.8],
  trajSets([[TR.r, [e2Red]], [TR.g, [e2Green]], [TR.b, [e2Blue]], [TR.k, [e2Black]], [TR.m, [e2Mag]], [TR.c, [e2Cyan]]]), dim2);
trajChart([492, 461, 180, 136], { l: 32, t: 6, b: 23, r: 6 }, [-1.48, 1.03], [-1.21, 0.64], [-1, -0.5, 0, 0.5], [-1.2, -1, -0.8, -0.6, -0.4, -0.2, 0, 0.2, 0.4, 0.6],
  trajSets([[TR.r, [e3Red]], [TR.g, [e3Green]], [TR.b, [e3Blue]], [TR.k, [e3Black]], [TR.m, [e3Mag]], [TR.c, [e3Cyan]]]), dim2);

trajChart([57, 657, 187, 149], { l: 37, t: 6, b: 27, r: 8 }, [-0.113, 0.337], [-0.18, 0.182], [-0.1, 0, 0.1, 0.2, 0.3], [-0.15, -0.1, -0.05, 0, 0.05, 0.1, 0.15],
  trajSets([[TR.r, i1Red], [TR.g, i1Green], [TR.b, i1Blue], [TR.k, i1Black], [TR.m, i1Mag], [TR.c, i1Cyan]]), dim2);
trajChart([266, 657, 189, 149], { l: 24, t: 6, b: 24, r: 8 }, [-0.345, 0.27], [-0.307, 0.19], [-0.3, -0.2, -0.1, 0, 0.1, 0.2], [-0.2, -0.1, 0, 0.1],
  trajSets([[TR.r, i2Red], [TR.g, i2Green], [TR.b, i2Blue], [TR.k, i2Black], [TR.m, i2Mag], [TR.c, i2Cyan]]));
trajChart([488, 659, 192, 151], { l: 24, t: 6, b: 27, r: 8 }, [-0.28, 0.425], [-0.324, 0.252], [-0.2, -0.1, 0, 0.1, 0.2, 0.3, 0.4], [-0.2, -0.1, 0, 0.1, 0.2],
  trajSets([[TR.r, i3Red], [TR.g, i3Green], [TR.b, i3Blue], [TR.k, i3Black], [TR.m, i3Mag], [TR.c, i3Cyan]]));

trajChart([58, 865, 191, 149], { l: 45, t: 6, b: 24, r: 8 }, [-0.0746, 0.0962], [-0.0622, 0.0721], [-0.06, -0.04, -0.02, 0, 0.02, 0.04, 0.06, 0.08], [-0.06, -0.04, -0.02, 0, 0.02, 0.04, 0.06],
  trajSets([[TR.r, [j1Red]], [TR.g, [j1Green]], [TR.b, [j1Blue]]]), dim2);
trajChart([277, 872, 181, 143], { l: 28, t: 6, b: 23, r: 8 }, [-0.146, 0.379], [-0.153, 0.263], [-0.1, 0, 0.1, 0.2, 0.3], [-0.1, -0.05, 0, 0.05, 0.1, 0.15, 0.2, 0.25],
  trajSets([[TR.r, j2Red], [TR.g, j2Green], [TR.b, j2Blue], [TR.k, j2Black], [TR.m, j2Mag], [TR.c, j2Cyan]]));
trajChart([492, 865, 197, 150], { l: 24, t: 6, b: 27, r: 6 }, [-0.179, 0.36], [-0.202, 0.213], [-0.1, 0, 0.1, 0.2, 0.3], [-0.2, -0.15, -0.1, -0.05, 0, 0.05, 0.1, 0.15, 0.2],
  trajSets([[TR.r, j3Red], [TR.g, j3Green], [TR.b, j3Blue], [TR.k, j3Black], [TR.m, j3Mag], [TR.c, j3Cyan]]));

// ---------- text ----------
[['A', 22, 20], ['B', 442, 25], ['C', 18, 240], ['D', 685, 23], ['E', 22, 460], ['F', 441, 241], ['G', 688, 237],
 ['H', 683, 446], ['I', 20, 641], ['J', 15, 855], ['K', 681, 645], ['L', 674, 858]]
  .forEach(([s, x, y]) => txt(s, x, y, { fs: 22, a: 'c', color: '#000' }));

txt('Between-session "Attack" prediction', 218, 25, { fs: 10, a: 'c' });
aRegions.forEach((s, i) => { txt(s, 41, aRowY[i], { fs: 8, a: 'r' }); txt(aCorr[i], 399, aRowY[i], { fs: 8 }); });
txt('Time', 222, 229, { fs: 11, a: 'c' });
txt('50 s', 368, 231, { fs: 8, a: 'c' });
lineLegend(345, 13, 44, 15, [['#000', 'Measured'], [RED, 'Predicted']], 5);

cFeatures.forEach((s, i) => { txt(s, 39, cRowY[i], { fs: 11, a: 'r' }); txt(cCorr[i], 399, cRowY[i], { fs: 8 }); });
txt('Behavioral tracking feature', 17, 335, { fs: 10, rot: -90 });
txt('Time', 222, 440, { fs: 11, a: 'c' });
txt('50 s', 368, 443, { fs: 8, a: 'c' });
lineLegend(50, 234, 43, 15, [['#000', 'Measured'], [RED, 'Predicted']], 5);

txt('Between-session "Attack" prediction', 562, 28, { fs: 10, a: 'c' });
txt('neural', 533, 80, { fs: 11, rot: 90, color: '#fff' });
txt('behavior', 534, 172, { fs: 10, rot: 90, color: '#fff' });
txt('n= 16', 598, 182, { fs: 7, a: 'c' });
txt('sessions', 639, 182, { fs: 7, a: 'c' });
txt('n= 5 mice', 872, 180, { fs: 8, a: 'c' });

txt('Attack', 606, 377, { fs: 16, a: 'c', color: '#fff' });
txt('angle', 473, 265, { fs: 5, rot: -90 });
txt('mount', 851, 784, { fs: 14, a: 'c', color: '#fff' });
txt('angle', 727, 679, { fs: 5, rot: -90 });
txt('thrust', 861, 1004, { fs: 14, a: 'c', color: '#fff' });
txt('angle', 735, 891, { fs: 5, rot: -90 });
txt('rank correlation: 0.24   (n= 138)', 828, 586, { fs: 6.5, a: 'c' });

txt('traj. angle', 104, 516, { fs: 6 });
lineLegend(174, 473, 39, 44, e1Ids.map((s, i) => [[TR.r, TR.g, TR.b, TR.k, TR.m, TR.c][i], s]), 5);
lineLegend(399, 472, 32, 36, e2Ids.map((s, i) => [[TR.r, TR.g, TR.b, TR.k, TR.m, TR.c][i], s]), 5);
lineLegend(500, 464, 37, 39, e3Ids.map((s, i) => [[TR.r, TR.g, TR.b, TR.k, TR.m, TR.c][i], s]), 5);
lineLegend(194, 868, 35, 24, j1Ids.map((s, i) => [[TR.r, TR.g, TR.b][i], s]), 5);
markLegend(64, 475, 'pre-attack', 'post-attack');
markLegend(280, 570, 'pre-attack', 'post-attack');
markLegend(500, 575, 'pre-attack', 'post-attack');
markLegend(70, 665, 'pre-mount', 'post-mount');
markLegend(279, 665, 'pre-mount', 'post-mount');
markLegend(500, 665, 'pre-mount', 'post-mount');
markLegend(75, 877, 'pre-thrust', 'post-thrust');
markLegend(288, 875, 'pre-thrust', 'post-thrust');
markLegend(504, 876, 'pre-thrust', 'post-thrust');
</script>
</body>
</html>
